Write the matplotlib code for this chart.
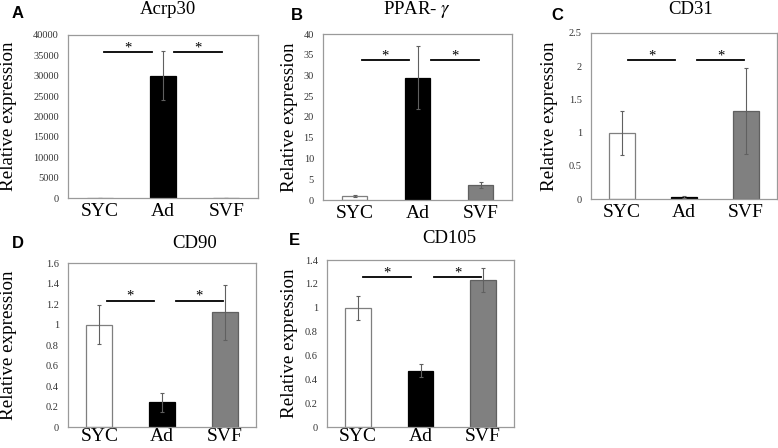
import matplotlib
matplotlib.use("Agg")
import matplotlib.pyplot as plt
from matplotlib.ticker import FuncFormatter

plt.rcParams['font.family'] = ['Liberation Serif', 'DejaVu Serif']
plt.rcParams['mathtext.fontset'] = 'stix'

groups = ['SYC', 'Ad', 'SVF']

# mean values and errors
acrp30 = [1, 30000, 5]
acrp30_err = [0.2, 6000, 1]
ppar = [1.0, 29.5, 3.6]
ppar_err = [0.2, 7.5, 0.7]
cd31 = [1.0, 0.03, 1.33]
cd31_err = [0.33, 0.02, 0.65]
cd90 = [1.0, 0.24, 1.12]
cd90_err = [0.19, 0.09, 0.27]
cd105 = [1.0, 0.47, 1.23]
cd105_err = [0.1, 0.055, 0.1]

# significance lines: (y, x0, x1)
sig_a = [(35800, 0.07, 0.83), (35800, 1.18, 1.93)]
sig_b = [(33.7, 0.12, 0.86), (33.7, 1.21, 1.98)]
sig_c = [(2.09, 0.10, 0.86), (2.09, 1.21, 1.97)]
sig_d = [(1.23, 0.12, 0.87), (1.23, 1.22, 1.97)]
sig_e = [(1.257, 0.08, 0.85), (1.257, 1.22, 1.97)]

W, H = 778, 448
fig = plt.figure(figsize=(W / 100, H / 100), dpi=100)


def px_axes(l, r, t, b):
    return fig.add_axes([l / W, (H - b) / H, (r - l) / W, (b - t) / H])


def panel(box, vals, errs, ymax, ystep, sigs, title, title_xy, letter, letter_xy, ylab_x, xpad):
    ax = px_axes(*box)
    ax.bar(range(3), vals, width=0.41,
           color=['white', 'black', '#808080'],
           edgecolor=['#7f7f7f', 'black', '#606060'], linewidth=0.9,
           yerr=errs, ecolor='#606060',
           error_kw=dict(elinewidth=0.8, capsize=1.5, capthick=0.8), zorder=2)
    ax.set_xlim(-0.5, 2.5)
    ax.set_ylim(0, ymax)
    ax.set_yticks([i * ystep for i in range(int(round(ymax / ystep)) + 1)])
    ax.yaxis.set_major_formatter(FuncFormatter(lambda v, p: '%g' % round(v, 6)))
    ax.set_xticks(range(3))
    ax.set_xticklabels(groups, fontsize=14)
    ax.tick_params(axis='y', length=0, pad=6.5, labelsize=7.5, labelcolor='#333333')
    ax.tick_params(axis='x', length=0, pad=xpad)
    for s in ax.spines.values():
        s.set_color('#9a9a9a')
        s.set_linewidth(0.9)
    for y, x0, x1 in sigs:
        ax.plot([x0, x1], [y, y], color='black', lw=1.3, zorder=3)
        ax.annotate('*', ((x0 + x1) / 2, y), xytext=(0, -1.5), textcoords='offset points',
                    ha='center', va='bottom', fontsize=10.5)
    fig.text(title_xy[0] / W, 1 - title_xy[1] / H, title, fontsize=13.5,
             ha='center', va='center')
    fig.text(letter_xy[0] / W, 1 - letter_xy[1] / H, letter, fontsize=12,
             fontweight='bold', family='Liberation Sans', ha='center', va='center')
    fig.text(ylab_x / W, 1 - (box[2] + box[3]) / 2 / H, 'Relative expression',
             rotation=90, fontsize=13.7, ha='center', va='center')
    return ax


panel((68, 258, 35, 198), acrp30, acrp30_err, 40000, 5000, sig_a,
      'Acrp30', (168, 9), 'A', (18, 14), 8.5, 3.5)
panel((323, 512, 34, 200), ppar, ppar_err, 40, 5, sig_b,
      'PPAR- $\\gamma$', (417, 10), 'B', (297, 15), 290, 3.5)
panel((591, 777, 33, 199), cd31, cd31_err, 2.5, 0.5, sig_c,
      'CD31', (691, 9), 'C', (557, 15), 550, 3.5)
panel((68, 256, 263, 427), cd90, cd90_err, 1.6, 0.2, sig_d,
      'CD90', (195, 243), 'D', (18, 244), 8.5, 0.5)
panel((327, 514, 260, 427), cd105, cd105_err, 1.4, 0.2, sig_e,
      'CD105', (449, 238), 'E', (294, 240), 290, 0.5)

fig.savefig('out.png', dpi=100)
